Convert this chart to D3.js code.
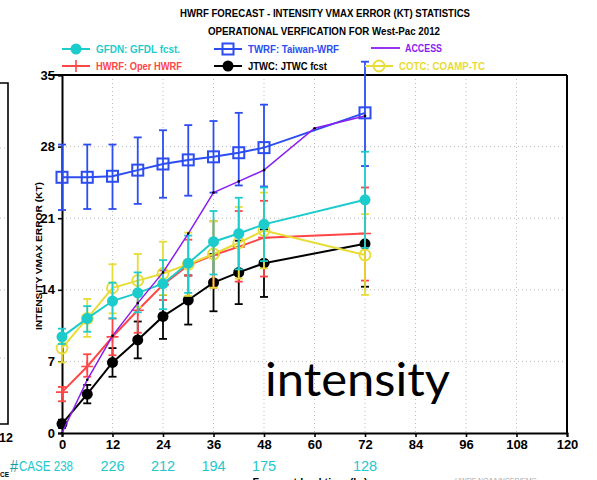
<!DOCTYPE html>
<html>
<head>
<meta charset="utf-8">
<script src="https://cdn.jsdelivr.net/npm/d3@7/dist/d3.min.js"></script>
<style>
  html, body { margin: 0; padding: 0; background: #fff; }
  svg { display: block; }
  .hv { font-family: "Liberation Sans", Arial, sans-serif; font-weight: bold; }
</style>
</head>
<body>
<div id="chart"></div>
<script>
// Forecast lead times (hr) with verification
const hours = [0, 6, 12, 18, 24, 30, 36, 42, 48, 72];
const accessHours = [0, 6, 12, 18, 24, 30, 36, 42, 48, 60, 72];

// Mean intensity (VMAX) errors in kt, with error-bar bounds
const gfdnMean = [9.4, 11.2, 12.9, 13.7, 14.6, 16.6, 18.7, 19.5, 20.4, 22.8];
const gfdnLow  = [8.7, 9.9, 11.2, 11.8, 12.1, 13.7, 15.5, 16.0, 16.8, 18.1];
const gfdnHigh = [10.2, 12.4, 14.7, 15.7, 16.9, 19.3, 21.7, 23.0, 24.0, 27.5];

const hwrfMean = [4.0, 6.5, 9.4, 12.0, 14.5, 16.4, 17.4, 18.2, 19.1, 19.5];
const hwrfLow  = [3.1, 5.5, 7.6, 9.8, 13.0, 15.4, 14.2, 14.8, 15.3, 14.9];
const hwrfHigh = [4.5, 7.7, 11.2, 13.5, 15.9, 18.9, 20.7, 21.7, 22.7, 24.0];

const twrfMean = [25.0, 25.0, 25.1, 25.7, 26.3, 26.7, 27.0, 27.4, 27.9, 31.3];
const twrfLow  = [21.8, 21.9, 21.9, 22.4, 23.0, 23.2, 23.5, 24.2, 24.1, 26.1];
const twrfHigh = [28.2, 28.2, 28.2, 28.9, 29.6, 30.1, 30.5, 31.3, 32.1, 36.3];

const jtwcMean = [0.9, 3.8, 6.9, 9.1, 11.4, 13.0, 14.7, 15.7, 16.6, 18.5];
const jtwcLow  = [0.5, 2.9, 5.5, 7.3, 9.2, 10.6, 11.9, 12.6, 13.3, 14.3];
const jtwcHigh = [1.3, 4.7, 8.3, 10.9, 13.5, 15.4, 17.5, 18.8, 19.9, 22.7];

const cotcMean = [8.3, 11.2, 14.2, 14.9, 15.6, 16.5, 17.5, 18.6, 19.8, 17.4];
const cotcLow  = [6.9, 9.4, 11.7, 12.3, 13.5, 13.4, 14.2, 15.1, 16.1, 13.5];
const cotcHigh = [9.7, 13.1, 16.5, 17.5, 18.7, 19.6, 20.7, 22.1, 23.5, 21.4];

const accessMean = [0.0, 5.2, 9.5, 12.7, 15.7, 19.5, 23.5, 24.6, 25.7, 29.8, 31.0];

// Axis ticks and sample sizes
const xTicks = [0, 12, 24, 36, 48, 60, 72, 84, 96, 108, 120];
const yTicks = [0, 7, 14, 21, 28, 35];
const caseHours = [0, 12, 24, 36, 48, 72];
const caseCounts = [238, 226, 212, 194, 175, 128];

const W = 597, H = 480;
const svg = d3.select("#chart").append("svg").attr("width", W).attr("height", H);

const x = d3.scaleLinear().domain([0, 120]).range([62, 567]);
const y = d3.scaleLinear().domain([0, 35]).range([433, 75]);

// Edge of the neighbouring panel
const edge = svg.append("g");
edge.append("path").attr("d", "M0,83 H8 V424 H0").attr("fill", "none")
  .attr("stroke", "#000").attr("stroke-width", 1.6);
[148, 218, 290, 358].forEach(v => {
  edge.append("line").attr("x1", 0).attr("x2", 6).attr("y1", v).attr("y2", v)
    .attr("stroke", "#bbb").attr("stroke-dasharray", "1,3");
});
edge.append("text").attr("class", "hv").attr("x", -1).attr("y", 442)
  .attr("font-size", 12.5).text("12");
edge.append("text").attr("class", "hv").attr("x", 0).attr("y", 477)
  .attr("font-size", 6.5).attr("font-weight", "normal").text("CE");

// Titles
svg.append("text").attr("class", "hv").attr("x", 325).attr("y", 17)
  .attr("text-anchor", "middle").attr("font-size", 10.5)
  .attr("textLength", 290).attr("lengthAdjust", "spacingAndGlyphs")
  .text("HWRF FORECAST - INTENSITY VMAX ERROR (KT) STATISTICS");
svg.append("text").attr("class", "hv").attr("x", 324).attr("y", 35)
  .attr("text-anchor", "middle").attr("font-size", 10.5)
  .attr("textLength", 232).attr("lengthAdjust", "spacingAndGlyphs")
  .text("OPERATIONAL VERFICATION FOR West-Pac 2012");

// Grid
const grid = svg.append("g");
xTicks.filter(t => t > 0 && t < 120).forEach(t => {
  grid.append("line").attr("x1", x(t)).attr("x2", x(t)).attr("y1", y(35)).attr("y2", y(0))
    .attr("stroke", "#bbb").attr("stroke-width", 1).attr("stroke-dasharray", "1,3");
});
yTicks.filter(t => t > 0 && t < 35).forEach(t => {
  grid.append("line").attr("x1", x(0)).attr("x2", x(120)).attr("y1", y(t)).attr("y2", y(t))
    .attr("stroke", "#bbb").attr("stroke-width", 1).attr("stroke-dasharray", "1,3");
});

// Axes
const xAxis = svg.append("g").attr("transform", `translate(0,${y(0)})`)
  .call(d3.axisBottom(x).tickValues(xTicks).tickSize(4).tickPadding(3));
const yAxis = svg.append("g").attr("transform", `translate(${x(0)},0)`)
  .call(d3.axisLeft(y).tickValues(yTicks).tickSize(4).tickPadding(3));
[xAxis, yAxis].forEach(a => {
  a.select(".domain").attr("stroke-width", 2);
  a.selectAll(".tick line").attr("stroke-width", 1.6);
  a.selectAll("text").attr("class", "hv").attr("font-size", 13).attr("fill", "#000");
});
// Right and top frame
svg.append("line").attr("x1", x(120)).attr("x2", x(120)).attr("y1", y(35)).attr("y2", y(0))
  .attr("stroke", "#000").attr("stroke-width", 2);
svg.append("line").attr("x1", 48).attr("x2", x(120)).attr("y1", y(35)).attr("y2", y(35))
  .attr("stroke", "#000").attr("stroke-width", 2);

// Y axis title
svg.append("text").attr("class", "hv").attr("font-size", 9.5)
  .attr("transform", `translate(42,${(y(0) + y(35)) / 2 + 2}) rotate(-90)`)
  .attr("text-anchor", "middle").attr("textLength", 148).attr("lengthAdjust", "spacingAndGlyphs")
  .text("INTENSITY VMAX ERROR (KT)");

// Case counts (the first one carries the "CASE" prefix)
const cases = svg.append("g");
caseHours.forEach((h, i) => {
  const t = cases.append("text").attr("y", 471)
    .attr("font-family", "Liberation Sans, Arial, sans-serif").attr("font-size", 14.5)
    .attr("fill", "#22c8cc");
  if (i === 0) {
    t.attr("x", 19).attr("textLength", x(h) + 11 - 19).attr("lengthAdjust", "spacingAndGlyphs")
      .text("CASE " + caseCounts[i]);
  } else {
    t.attr("x", x(h)).attr("text-anchor", "middle").text(caseCounts[i]);
  }
});
cases.append("text").attr("x", 10).attr("y", 472)
  .attr("font-family", "Liberation Sans, Arial, sans-serif").attr("font-size", 16)
  .attr("textLength", 8).attr("lengthAdjust", "spacingAndGlyphs")
  .attr("fill", "#139aa4").text("#");

svg.append("text").attr("class", "hv").attr("x", 310).attr("y", 486)
  .attr("text-anchor", "middle").attr("font-size", 11)
  .attr("textLength", 115).attr("lengthAdjust", "spacingAndGlyphs")
  .text("Forecast lead time (hr)");
svg.append("text").attr("x", 455).attr("y", 483).attr("font-size", 7)
  .attr("font-family", "Liberation Sans, Arial, sans-serif").attr("fill", "#aaa")
  .text("HWRF        NOAA/NCEP/EMC");

// Series definitions
const series = [
  { key: "TWRF", color: "#2b4df2", mean: twrfMean, low: twrfLow, high: twrfHigh, marker: "square" },
  { key: "JTWC", color: "#000000", mean: jtwcMean, low: jtwcLow, high: jtwcHigh, marker: "dot" },
  { key: "HWRF", color: "#ff4646", mean: hwrfMean, low: hwrfLow, high: hwrfHigh, marker: "plus" },
  { key: "COTC", color: "#e8dc36", mean: cotcMean, low: cotcLow, high: cotcHigh, marker: "ring" },
  { key: "GFDN", color: "#1ccbcb", mean: gfdnMean, low: gfdnLow, high: gfdnHigh, marker: "dot" }
];

function drawMarker(g, kind, cx, cy, color) {
  if (kind === "square") {
    g.append("rect").attr("x", cx - 5.5).attr("y", cy - 5.5).attr("width", 11).attr("height", 11)
      .attr("fill", "none").attr("stroke", color).attr("stroke-width", 2);
  } else if (kind === "dot") {
    g.append("circle").attr("cx", cx).attr("cy", cy).attr("r", 5.5).attr("fill", color);
  } else if (kind === "ring") {
    g.append("circle").attr("cx", cx).attr("cy", cy).attr("r", 5.5)
      .attr("fill", "none").attr("stroke", color).attr("stroke-width", 1.8);
  } else if (kind === "plus") {
    g.append("path").attr("d", `M${cx - 6},${cy}H${cx + 6}M${cx},${cy - 6}V${cy + 6}`)
      .attr("stroke", color).attr("stroke-width", 1.6);
  }
}

const line = d3.line().x(d => x(d[0])).y(d => y(d[1]));
const plot = svg.append("g");

series.forEach(s => {
  const g = plot.append("g");
  hours.forEach((h, i) => {
    const cx = x(h);
    g.append("line").attr("x1", cx).attr("x2", cx).attr("y1", y(s.low[i])).attr("y2", y(s.high[i]))
      .attr("stroke", s.color).attr("stroke-width", 1.8);
    [s.low[i], s.high[i]].forEach(v => {
      g.append("line").attr("x1", cx - 4).attr("x2", cx + 4).attr("y1", y(v)).attr("y2", y(v))
        .attr("stroke", s.color).attr("stroke-width", 1.8);
    });
  });
  g.append("path").datum(hours.map((h, i) => [h, s.mean[i]])).attr("d", line)
    .attr("fill", "none").attr("stroke", s.color).attr("stroke-width", 2);
  hours.forEach((h, i) => drawMarker(g, s.marker, x(h), y(s.mean[i]), s.color));
});

// ACCESS line with small vertex dots
const acc = plot.append("g");
acc.append("path").datum(accessHours.map((h, i) => [h, accessMean[i]])).attr("d", line)
  .attr("fill", "none").attr("stroke", "#8a1ef0").attr("stroke-width", 1.5);
accessHours.forEach((h, i) => {
  acc.append("circle").attr("cx", x(h)).attr("cy", y(accessMean[i])).attr("r", 1.3).attr("fill", "#000");
});

// Legend
const legendItems = [
  { label: "GFDN: GFDL fcst.", color: "#1ccbcb", marker: "dot", x0: 62, y0: 49, w: 84 },
  { label: "TWRF: Taiwan-WRF", color: "#2b4df2", marker: "square", x0: 214, y0: 49, w: 91 },
  { label: "ACCESS", color: "#8a1ef0", marker: null, x0: 371, y0: 48, w: 37 },
  { label: "HWRF: Oper HWRF", color: "#ff4646", marker: "plus", x0: 62, y0: 66, w: 86 },
  { label: "JTWC: JTWC fcst", color: "#000000", marker: "dot", x0: 214, y0: 66, w: 79 },
  { label: "COTC: COAMP-TC", color: "#e8dc36", marker: "ring", x0: 365, y0: 66, w: 86 }
];
const legend = svg.append("g");
legendItems.forEach(it => {
  const lx1 = it.x0, lx2 = it.marker ? it.x0 + 28 : it.x0 + 29;
  legend.append("line").attr("x1", lx1).attr("x2", lx2).attr("y1", it.y0).attr("y2", it.y0)
    .attr("stroke", it.color).attr("stroke-width", it.marker ? 2 : 1.8);
  if (it.marker) drawMarker(legend, it.marker, (lx1 + lx2) / 2, it.y0, it.color);
  legend.append("text").attr("class", "hv").attr("x", it.x0 + 34).attr("y", it.y0 + 4)
    .attr("font-size", 10.5).attr("fill", it.color)
    .attr("textLength", it.w).attr("lengthAdjust", "spacingAndGlyphs").text(it.label);
});

// Overlay caption
svg.append("text").attr("x", 265).attr("y", 396)
  .attr("font-family", "Lato, 'Open Sans', sans-serif").attr("font-size", 46)
  .attr("textLength", 185).attr("lengthAdjust", "spacingAndGlyphs")
  .attr("fill", "#000").text("intensity");
</script>
</body>
</html>
